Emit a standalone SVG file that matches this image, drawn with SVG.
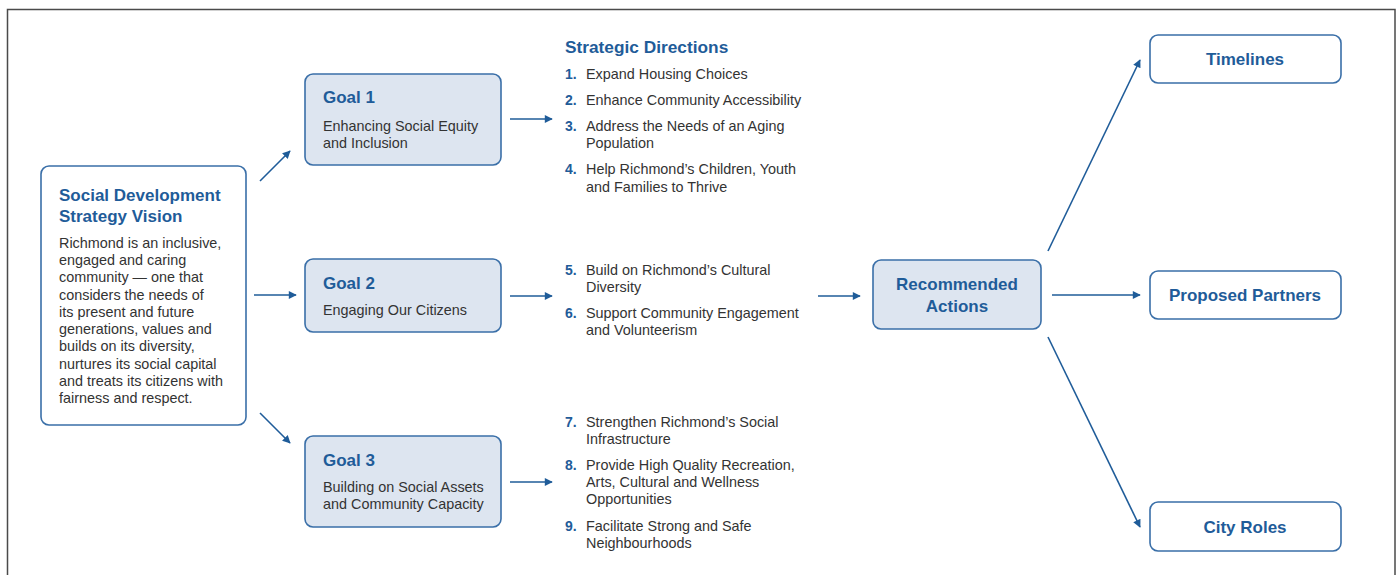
<svg xmlns="http://www.w3.org/2000/svg" width="1398" height="575" viewBox="0 0 1398 575">
<style>
.frame{fill:none;stroke:#4a4a4a;stroke-width:1.5}
.box{fill:#ffffff;stroke:#3a6fa8;stroke-width:1.6}
.goal{fill:#dde5f0;stroke:#3a6fa8;stroke-width:1.6}
.h{font-family:"Liberation Sans",Arial,sans-serif;font-weight:bold;fill:#1f5c99}
.t{font-family:"Liberation Sans",Arial,sans-serif;font-size:14.4px;fill:#333333}
.n{font-family:"Liberation Sans",Arial,sans-serif;font-size:14px;font-weight:bold;fill:#1f5c99}
.c{text-anchor:middle}
.arr{stroke:#1f5c99;stroke-width:1.6;fill:none;marker-end:url(#ah)}
</style>
<defs>
<marker id="ah" viewBox="0 0 10 10" refX="9" refY="5" markerWidth="9" markerHeight="8" markerUnits="userSpaceOnUse" orient="auto">
<path d="M0,0 L10,5 L0,10 z" fill="#1f5c99"/>
</marker>
</defs>
<rect class="frame" x="7.5" y="9.5" width="1387.5" height="580"/>

<g id="connectors">
<line class="arr" x1="260" y1="181" x2="290" y2="151"/>
<line class="arr" x1="254" y1="295" x2="296" y2="295"/>
<line class="arr" x1="260" y1="413" x2="290" y2="443"/>
<line class="arr" x1="510" y1="119" x2="552" y2="119"/>
<line class="arr" x1="510" y1="296" x2="552" y2="296"/>
<line class="arr" x1="510" y1="482" x2="552" y2="482"/>
<line class="arr" x1="818" y1="296" x2="860" y2="296"/>
<line class="arr" x1="1048" y1="251" x2="1140" y2="60"/>
<line class="arr" x1="1052" y1="295" x2="1140" y2="295"/>
<line class="arr" x1="1048" y1="337" x2="1140" y2="527"/>
</g>

<g id="vision">
<rect class="box" x="41" y="166" width="205" height="259" rx="8"/>
<text class="h" font-size="17" x="59" y="201">Social Development</text>
<text class="h" font-size="17" x="59" y="222">Strategy Vision</text>
<text class="t" x="59" y="248">Richmond is an inclusive,</text>
<text class="t" x="59" y="265">engaged and caring</text>
<text class="t" x="59" y="282">community — one that</text>
<text class="t" x="59" y="300">considers the needs of</text>
<text class="t" x="59" y="317">its present and future</text>
<text class="t" x="59" y="334">generations, values and</text>
<text class="t" x="59" y="351">builds on its diversity,</text>
<text class="t" x="59" y="369">nurtures its social capital</text>
<text class="t" x="59" y="386">and treats its citizens with</text>
<text class="t" x="59" y="403">fairness and respect.</text>
</g>

<g id="goal1">
<rect class="goal" x="305" y="74" width="196" height="91" rx="8"/>
<text class="h" font-size="17" x="323" y="103">Goal 1</text>
<text class="t" x="323" y="131">Enhancing Social Equity</text>
<text class="t" x="323" y="148">and Inclusion</text>
</g>

<g id="goal2">
<rect class="goal" x="305" y="259" width="196" height="73" rx="8"/>
<text class="h" font-size="17" x="323" y="289">Goal 2</text>
<text class="t" x="323" y="315">Engaging Our Citizens</text>
</g>

<g id="goal3">
<rect class="goal" x="305" y="436" width="196" height="91" rx="8"/>
<text class="h" font-size="17" x="323" y="466">Goal 3</text>
<text class="t" x="323" y="492">Building on Social Assets</text>
<text class="t" x="323" y="509">and Community Capacity</text>
</g>

<g id="directions">
<text class="h" font-size="17.3" x="565" y="53">Strategic Directions</text>
<text class="n" x="565" y="79">1.</text><text class="t" x="586" y="79">Expand Housing Choices</text>
<text class="n" x="565" y="105">2.</text><text class="t" x="586" y="105">Enhance Community Accessibility</text>
<text class="n" x="565" y="131">3.</text><text class="t" x="586" y="131">Address the Needs of an Aging</text>
<text class="t" x="586" y="148">Population</text>
<text class="n" x="565" y="174">4.</text><text class="t" x="586" y="174">Help Richmond’s Children, Youth</text>
<text class="t" x="586" y="192">and Families to Thrive</text>
<text class="n" x="565" y="275">5.</text><text class="t" x="586" y="275">Build on Richmond’s Cultural</text>
<text class="t" x="586" y="292">Diversity</text>
<text class="n" x="565" y="318">6.</text><text class="t" x="586" y="318">Support Community Engagement</text>
<text class="t" x="586" y="335">and Volunteerism</text>
<text class="n" x="565" y="427">7.</text><text class="t" x="586" y="427">Strengthen Richmond’s Social</text>
<text class="t" x="586" y="444">Infrastructure</text>
<text class="n" x="565" y="470">8.</text><text class="t" x="586" y="470">Provide High Quality Recreation,</text>
<text class="t" x="586" y="487">Arts, Cultural and Wellness</text>
<text class="t" x="586" y="504">Opportunities</text>
<text class="n" x="565" y="531">9.</text><text class="t" x="586" y="531">Facilitate Strong and Safe</text>
<text class="t" x="586" y="548">Neighbourhoods</text>
</g>

<g id="actions">
<rect class="goal" x="873" y="260" width="168" height="69" rx="8"/>
<text class="h c" font-size="17" x="957" y="290">Recommended</text>
<text class="h c" font-size="17" x="957" y="312">Actions</text>
</g>

<g id="timelines">
<rect class="box" x="1150" y="35" width="191" height="48" rx="8"/>
<text class="h c" font-size="17" x="1245" y="65">Timelines</text>
</g>

<g id="partners">
<rect class="box" x="1150" y="271" width="191" height="48" rx="8"/>
<text class="h c" font-size="17" x="1245" y="301">Proposed Partners</text>
</g>

<g id="roles">
<rect class="box" x="1150" y="502" width="191" height="49" rx="8"/>
<text class="h c" font-size="17" x="1245" y="533">City Roles</text>
</g>
</svg>
